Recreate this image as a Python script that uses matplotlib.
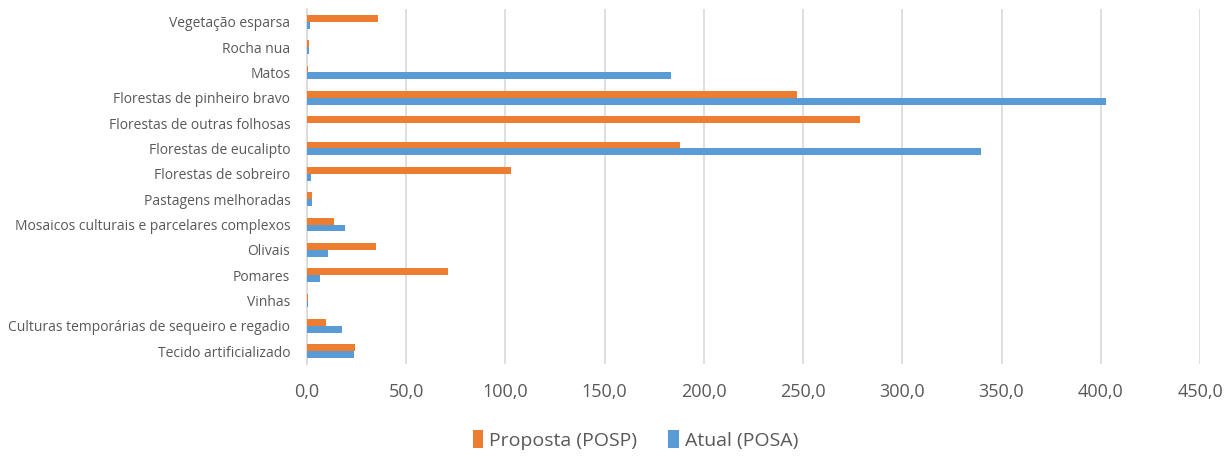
import matplotlib
matplotlib.use("Agg")
import matplotlib.pyplot as plt
from matplotlib.ticker import FuncFormatter, MultipleLocator
import numpy as np

# Land-use classes (bottom to top, as drawn)
categorias = [
    "Tecido artificializado",
    "Culturas temporárias de sequeiro e regadio",
    "Vinhas",
    "Pomares",
    "Olivais",
    "Mosaicos culturais e parcelares complexos",
    "Pastagens melhoradas",
    "Florestas de sobreiro",
    "Florestas de eucalipto",
    "Florestas de outras folhosas",
    "Florestas de pinheiro bravo",
    "Matos",
    "Rocha nua",
    "Vegetação esparsa",
]
proposta = [24.0, 9.8, 0.7, 71.3, 35.0, 13.5, 2.5, 103.0, 188.1, 278.8, 246.8, 0.3, 1.0, 36.0]
atual = [23.9, 17.8, 0.5, 6.6, 10.4, 19.0, 2.5, 2.0, 339.5, 0.0, 402.4, 183.3, 1.0, 1.6]

laranja = "#ed7d31"
azul = "#5b9bd5"
cinza = "#595959"

plt.rcParams["font.family"] = ["Open Sans", "DejaVu Sans"]

fig = plt.figure(figsize=(12.28, 4.59), dpi=100)
ax = fig.add_axes([307 / 1228, 1 - 364 / 459, (1200 - 307) / 1228, (364 - 9) / 459])

y = np.arange(len(categorias))
h = 0.27
ax.barh(y + h / 2, proposta, height=h, color=laranja, label="Proposta (POSP)", zorder=3)
ax.barh(y - h / 2, atual, height=h, color=azul, label="Atual (POSA)", zorder=3)

ax.set_ylim(-0.5, len(categorias) - 0.5)
ax.set_xlim(0, 450)
ax.xaxis.set_major_locator(MultipleLocator(50))
ax.xaxis.set_major_formatter(FuncFormatter(lambda v, p: f"{v:.1f}".replace(".", ",")))
ax.set_yticks(y)
ax.set_yticklabels(categorias)

ax.grid(axis="x", color="#d9d9d9", linewidth=1.2, zorder=0)
for s in ["top", "right", "bottom"]:
    ax.spines[s].set_visible(False)
ax.spines["left"].set_color("#d9d9d9")
ax.spines["left"].set_linewidth(1.2)
ax.spines["left"].set_zorder(2)

ax.tick_params(axis="y", length=0, labelsize=10, labelcolor=cinza, pad=12)
ax.tick_params(axis="x", length=0, labelsize=13, labelcolor=cinza, pad=14)

leg = fig.legend(loc="center", bbox_to_anchor=(0.5175, 1 - 440 / 459), ncol=2, frameon=False,
                 fontsize=14, handlelength=0.55, handleheight=1.0, columnspacing=1.6,
                 handletextpad=0.3)
for t in leg.get_texts():
    t.set_color(cinza)

fig.savefig("out.png", dpi=100)
